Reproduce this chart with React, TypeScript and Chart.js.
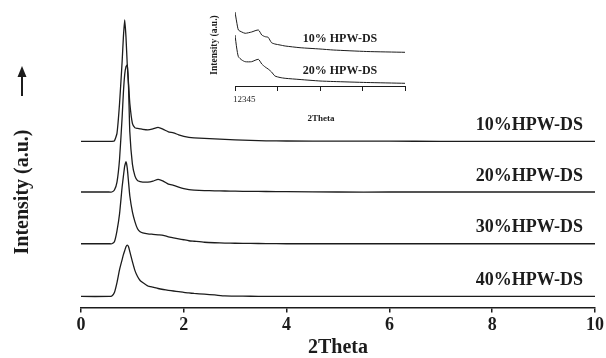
import React, { useEffect, useRef } from 'react';
import { Chart, registerables } from 'chart.js';

Chart.register(...registerables);

const SERIF = '"Liberation Serif", "DejaVu Serif", serif';
const INK = '#1c1c1c';

// ---- main chart data (2Theta grid shared by all four patterns) ----
const THETA = [0, 0.55, 0.6, 0.65, 0.7, 0.75, 0.8, 0.825, 0.85, 0.875, 0.9, 0.925, 0.95, 1.0, 1.05, 1.1, 1.15, 1.2, 1.3, 1.4, 1.5, 1.6, 1.7, 1.8, 1.9, 2.0, 2.1, 2.2, 2.4, 2.6, 2.8, 3.0, 3.3, 3.6, 4, 5, 6, 7, 8, 9, 10];
const HPW10 = [0, 0, 0, 0.5, 8, 38, 80, 105, 122, 105, 77, 58, 38, 18, 13.5, 13, 12.5, 12, 11.5, 12.5, 14, 12, 9.5, 8.5, 6.5, 5, 4, 3.5, 3, 2.5, 2, 1.5, 1, 0.5, 0.3, 0.2, 0.1, 0, 0, 0, 0];
const HPW20 = [0, 0, 0, 2, 10, 33, 75, 100, 118, 126, 127.7, 105, 60, 28, 16, 11.5, 10.5, 10, 10, 11, 12.7, 11, 8, 6.7, 5, 3.5, 2.5, 2, 1.5, 1.2, 1, 0.8, 0.6, 0.5, 0.3, 0, 0, 0, 0, 0, 0];
const HPW30 = [0, 0, 0, 2, 13, 30, 57, 68, 78, 82.3, 76, 62, 48, 32, 22, 15, 12, 11, 10, 9.5, 9, 8.5, 7, 6, 5, 4, 3, 2.5, 1.5, 1, 0.7, 0.5, 0.3, 0.2, 0, 0, 0, 0, 0, 0, 0];
const HPW40 = [0, 0, 0.5, 4, 14, 27, 37, 42, 46, 50, 51.7, 50, 45, 35, 26, 20, 16, 14, 10.5, 9.3, 8, 7, 6.2, 5.5, 4.8, 4, 3.5, 3, 2.3, 1.5, 0.5, 0.3, 0.2, 0.1, 0, 0, 0, 0, 0, 0, 0];
const SERIES = [HPW10, HPW20, HPW30, HPW40];
const SERIES_LABELS = ['10%HPW-DS', '20%HPW-DS', '30%HPW-DS', '40%HPW-DS'];
const BASELINES = [167, 116, 64, 11];
const X_TICKS = [0, 2, 4, 6, 8, 10];

// ---- inset data ----
const INSET_THETA = [1.0, 1.04, 1.08, 1.16, 1.24, 1.39, 1.55, 1.63, 1.71, 1.78, 1.86, 1.94, 2.06, 2.18, 2.53, 3.0, 3.31, 4.1, 5.0];
const INSET_10 = [74, 64, 56, 54, 52.7, 54, 56, 51, 49.3, 48.7, 43.3, 42, 41, 40, 38.3, 37, 36, 34.5, 33.7];
const INSET_20 = [51, 38, 29.3, 26, 24.3, 24.3, 26.7, 22, 19, 17, 14, 10, 8.5, 7.7, 6.5, 5, 4.5, 3.5, 2.7];
const INSET_LABELS = ['10% HPW-DS', '20% HPW-DS'];
const INSET_TICK_TEXT = '12345';

const mainPlugin = {
  id: 'mainAnnotations',
  afterDraw(chart: any) {
    const { ctx } = chart;
    const ys = chart.scales.y;
    ctx.save();
    ctx.fillStyle = INK;
    ctx.font = `bold 18px ${SERIF}`;
    ctx.textAlign = 'right';
    ctx.textBaseline = 'middle';
    SERIES_LABELS.forEach((lab, i) => {
      const y = ys.getPixelForValue(BASELINES[i]) - 16;
      ctx.fillText(lab, 583, y);
    });
    // y title
    ctx.save();
    ctx.translate(23, 192);
    ctx.rotate(-Math.PI / 2);
    ctx.font = `bold 20px ${SERIF}`;
    ctx.textAlign = 'center';
    ctx.textBaseline = 'middle';
    ctx.fillText('Intensity (a.u.)', 0, 0);
    ctx.restore();
    // arrow
    ctx.strokeStyle = INK;
    ctx.lineWidth = 2;
    ctx.beginPath();
    ctx.moveTo(22, 96);
    ctx.lineTo(22, 74);
    ctx.stroke();
    ctx.beginPath();
    ctx.moveTo(22, 66);
    ctx.lineTo(17.5, 77);
    ctx.lineTo(26.5, 77);
    ctx.closePath();
    ctx.fill();
    ctx.restore();
  },
};

const insetPlugin = {
  id: 'insetAnnotations',
  afterDraw(chart: any) {
    const { ctx } = chart;
    ctx.save();
    ctx.fillStyle = INK;
    ctx.font = `bold 12px ${SERIF}`;
    ctx.textAlign = 'center';
    ctx.textBaseline = 'middle';
    ctx.fillText(INSET_LABELS[0], 140, 39);
    ctx.fillText(INSET_LABELS[1], 140, 71);
    ctx.font = `9px ${SERIF}`;
    ctx.textAlign = 'left';
    ctx.fillText(INSET_TICK_TEXT, 33, 100);
    ctx.font = `bold 9px ${SERIF}`;
    ctx.textAlign = 'center';
    ctx.fillText('2Theta', 121, 119);
    ctx.save();
    ctx.translate(15, 45);
    ctx.rotate(-Math.PI / 2);
    ctx.font = `bold 9.5px ${SERIF}`;
    ctx.fillText('Intensity (a.u.)', 0, 0);
    ctx.restore();
    ctx.restore();
  },
};

export default function App() {
  const mainRef = useRef<HTMLCanvasElement>(null);
  const insetRef = useRef<HTMLCanvasElement>(null);

  useEffect(() => {
    const mainDatasets = SERIES.map((vals, i) => ({
      label: SERIES_LABELS[i],
      data: THETA.map((t, k) => ({ x: t, y: vals[k] + BASELINES[i] })),
      borderColor: INK,
      borderWidth: 1.3,
      pointRadius: 0,
      tension: 0.15,
      fill: false,
    }));
    const main = new Chart(mainRef.current!, {
      type: 'line',
      data: { datasets: mainDatasets },
      options: {
        responsive: false,
        animation: false,
        devicePixelRatio: 1,
        layout: { padding: { left: 81, right: 10, top: 9, bottom: 0 } },
        plugins: { legend: { display: false }, tooltip: { enabled: false } },
        scales: {
          x: {
            type: 'linear',
            min: 0,
            max: 10,
            afterBuildTicks: (axis: any) => {
              axis.ticks = X_TICKS.map((v) => ({ value: v }));
            },
            grid: { display: true, drawOnChartArea: false, tickLength: 5, color: INK, lineWidth: 1.5 },
            border: { display: true, color: INK, width: 1.5 },
            ticks: { color: INK, font: { family: SERIF, size: 18, weight: 'bold' }, padding: 2, maxRotation: 0 },
            title: {
              display: true,
              text: '2Theta',
              color: INK,
              font: { family: SERIF, size: 20, weight: 'bold', lineHeight: 1 },
              padding: { top: 0, bottom: 0 },
            },
          },
          y: { type: 'linear', min: 0, max: 300, display: false },
        },
      },
      plugins: [mainPlugin],
    } as any);

    const inset = new Chart(insetRef.current!, {
      type: 'line',
      data: {
        datasets: [INSET_10, INSET_20].map((vals, i) => ({
          label: INSET_LABELS[i],
          data: INSET_THETA.map((t, k) => ({ x: t, y: vals[k] })),
          borderColor: INK,
          borderWidth: 1,
          pointRadius: 0,
          tension: 0.2,
          fill: false,
        })),
      },
      options: {
        responsive: false,
        animation: false,
        devicePixelRatio: 1,
        layout: { padding: { left: 35, right: 25, top: 6, bottom: 39 } },
        plugins: { legend: { display: false }, tooltip: { enabled: false } },
        scales: {
          x: {
            type: 'linear',
            min: 1,
            max: 5,
            ticks: { display: false, stepSize: 1 },
            grid: { display: true, drawOnChartArea: false, tickLength: 5, color: INK, lineWidth: 1 },
            border: { display: true, color: INK, width: 1 },
          },
          y: { type: 'linear', min: 0, max: 80, display: false },
        },
      },
      plugins: [insetPlugin],
    } as any);

    return () => {
      main.destroy();
      inset.destroy();
    };
  }, []);

  return (
    <div style={{ position: 'absolute', left: 0, top: 0, width: 606, height: 358, background: '#fff' }}>
      <canvas ref={mainRef} width={606} height={358} style={{ position: 'absolute', left: 0, top: 0, width: 606, height: 358 }} />
      <canvas ref={insetRef} width={230} height={130} style={{ position: 'absolute', left: 200, top: 0, width: 230, height: 130 }} />
    </div>
  );
}
